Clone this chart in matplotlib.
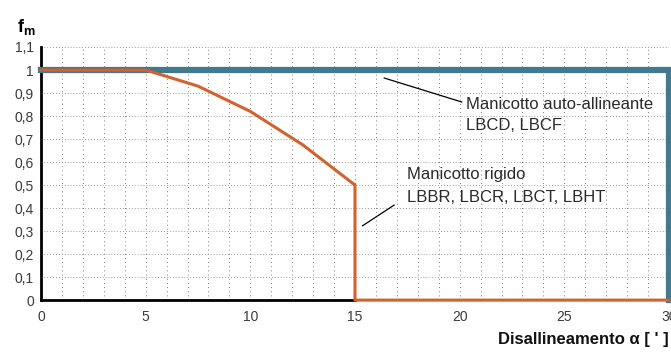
import numpy as np
import matplotlib.pyplot as plt

plt.rcParams['font.family'] = ['Liberation Sans', 'DejaVu Sans']

# dati
rigido_x = [0, 5, 7.5, 10, 12.5, 15, 15, 30]
rigido_y = [1, 1, 0.93, 0.82, 0.675, 0.5, 0, 0]
auto_x = [0, 30, 30]
auto_y = [1, 1, 0]
xticks = [0, 5, 10, 15, 20, 25, 30]
yticks = [0, 0.1, 0.2, 0.3, 0.4, 0.5, 0.6, 0.7, 0.8, 0.9, 1.0, 1.1]
ylabels = ['0', '0,1', '0,2', '0,3', '0,4', '0,5', '0,6', '0,7', '0,8', '0,9', '1', '1,1']

fig = plt.figure(figsize=(6.71, 3.56), dpi=100)
ax = fig.add_axes([0.0611, 0.157, 0.9359, 0.711])

# griglia puntinata
for xv in np.arange(1, 30, 1):
    ax.axvline(xv, color='#555555', lw=0.6, ls=(0, (1, 4)), zorder=0)
for yv in yticks[1:]:
    ax.axhline(yv, color='#777777', lw=0.6, ls=(0, (1, 2.5)), zorder=0)

ax.plot(auto_x, auto_y, color='#43798F', lw=4.5, clip_on=False, zorder=3,
        solid_joinstyle='miter')
ax.plot(rigido_x, rigido_y, color='#D2622E', lw=2.2, clip_on=False, zorder=4)

ax.set_xlim(0, 30)
ax.set_ylim(0, 1.1)
ax.set_xticks(xticks)
ax.set_yticks(yticks)
ax.set_yticklabels(ylabels)
ax.tick_params(length=0, labelsize=10, labelcolor='#3a3a3a')
ax.tick_params(axis='x', pad=7)
ax.tick_params(axis='y', pad=5)
for s in ['top', 'right']:
    ax.spines[s].set_visible(False)
ax.spines['left'].set_linewidth(2)
ax.spines['bottom'].set_linewidth(2)
ax.spines['bottom'].set_bounds(0, 15)

# annotazioni
ax.plot([16.4, 20.1], [0.965, 0.861], color='black', lw=0.9, zorder=5)
ax.text(20.3, 0.852, 'Manicotto auto-allineante', fontsize=12, color='#2a2a2a', va='center')
ax.text(20.3, 0.76, 'LBCD, LBCF', fontsize=12, color='#2a2a2a', va='center')

ax.plot([15.36, 16.87], [0.323, 0.413], color='black', lw=0.9, zorder=5)
ax.text(17.5, 0.548, 'Manicotto rigido', fontsize=12, color='#2a2a2a', va='center')
ax.text(17.5, 0.448, 'LBBR, LBCR, LBCT, LBHT', fontsize=12, color='#2a2a2a', va='center')

fig.text(0.025, 0.925, 'f$_\\mathregular{m}$', fontsize=13, fontweight='bold', va='center')
fig.text(0.996, 0.045, 'Disallineamento α [ \' ]', fontsize=12, fontweight='bold',
         ha='right', va='center', color='#111111')

fig.savefig('out.png', dpi=100)
